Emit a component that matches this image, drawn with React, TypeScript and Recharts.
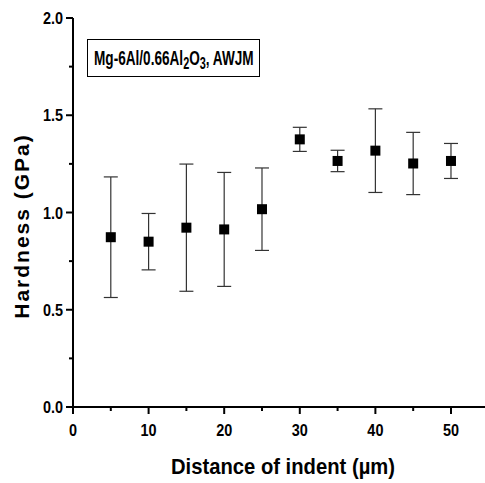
import { ScatterChart, Scatter, XAxis, YAxis, ErrorBar } from 'recharts';

const distance = [5, 10, 15, 20, 25, 30, 35, 40, 45, 50];
const hardness = [0.873, 0.85, 0.922, 0.913, 1.017, 1.376, 1.265, 1.318, 1.252, 1.265];
const hardnessErr = [0.31, 0.145, 0.327, 0.293, 0.212, 0.062, 0.055, 0.215, 0.16, 0.09];

const xTicks = [0, 5, 10, 15, 20, 25, 30, 35, 40, 45, 50];
const yTicks = [0, 0.25, 0.5, 0.75, 1, 1.25, 1.5, 1.75, 2];

const data = distance.map((d, i) => ({ x: d, y: hardness[i], err: hardnessErr[i] }));

const font = '"Liberation Sans", Arial, sans-serif';

// narrow bold look of the original: squeeze the glyphs horizontally
const XTick = ({ x, y, payload }: any) => {
  const major = payload.value % 10 === 0;
  return (
    <g>
      <line x1={x} x2={x} y1={y} y2={y + (major ? 7 : 4)} stroke="#000" strokeWidth={2} />
      {major && (
        <g transform={`translate(${x},${y + 29}) scale(0.85,1)`}>
          <text x={0} y={0} textAnchor="middle" fontSize={17} fontWeight="bold" fontFamily={font} fill="#000">
            {payload.value}
          </text>
        </g>
      )}
    </g>
  );
};

const YTick = ({ x, y, payload }: any) => {
  const major = Math.abs((payload.value * 2) % 1) < 1e-6;
  return (
    <g>
      <line x1={x - (major ? 7 : 4)} x2={x} y1={y} y2={y} stroke="#000" strokeWidth={2} />
      {major && (
        <g transform={`translate(${x - 10},${y + 6}) scale(0.85,1)`}>
          <text x={0} y={0} textAnchor="end" fontSize={17} fontWeight="bold" fontFamily={font} fill="#000">
            {payload.value.toFixed(1)}
          </text>
        </g>
      )}
    </g>
  );
};

const Square = ({ cx, cy }: any) => <rect x={cx - 5} y={cy - 5} width={10} height={10} fill="#000" />;

export default function App() {
  return (
    <div style={{ position: 'absolute', left: 0, top: 0, width: 485, height: 483, background: '#fff' }}>
      <ScatterChart width={485} height={483} margin={{ top: 18, right: 0, left: 0, bottom: 0 }}>
        <XAxis
          type="number"
          dataKey="x"
          domain={[0, 54.5]}
          ticks={xTicks}
          interval={0}
          height={76}
          tickSize={0}
          tickMargin={0}
          tickLine={false}
          axisLine={{ stroke: '#000', strokeWidth: 2 }}
          tick={<XTick />}
        />
        <YAxis
          type="number"
          dataKey="y"
          domain={[0, 2]}
          ticks={yTicks}
          interval={0}
          width={73}
          tickSize={0}
          tickMargin={0}
          tickLine={false}
          axisLine={{ stroke: '#000', strokeWidth: 2 }}
          tick={<YTick />}
        />
        <Scatter data={data} shape={<Square />} isAnimationActive={false}>
          <ErrorBar dataKey="err" direction="y" width={7} stroke="#333" strokeWidth={1.2} />
        </Scatter>
      </ScatterChart>
      <svg width={485} height={483} style={{ position: 'absolute', left: 0, top: 0, pointerEvents: 'none' }}>
        <g transform="translate(29,226) rotate(-90)">
          <text x={0} y={0} textAnchor="middle" fontSize={21} fontWeight="bold" letterSpacing={2} fontFamily={font} fill="#000">
            Hardness (GPa)
          </text>
        </g>
        <g transform="translate(283,474) scale(0.92,1)">
          <text x={0} y={0} textAnchor="middle" fontSize={22} fontWeight="bold" fontFamily={font} fill="#000">
            Distance of indent (µm)
          </text>
        </g>
        <rect x={87.5} y={39.5} width={172} height={37} fill="#fff" stroke="#000" strokeWidth={1} />
        <g transform="translate(94,65) scale(0.68,1)">
          <text x={0} y={0} fontSize={20} fontWeight="bold" fontFamily={font} fill="#000">
            Mg-6Al/0.66Al
            <tspan fontSize={16} dy={4}>2</tspan>
            <tspan fontSize={20} dy={-4}>O</tspan>
            <tspan fontSize={16} dy={4}>3</tspan>
            <tspan fontSize={20} dy={-4}>, AWJM</tspan>
          </text>
        </g>
      </svg>
    </div>
  );
}
